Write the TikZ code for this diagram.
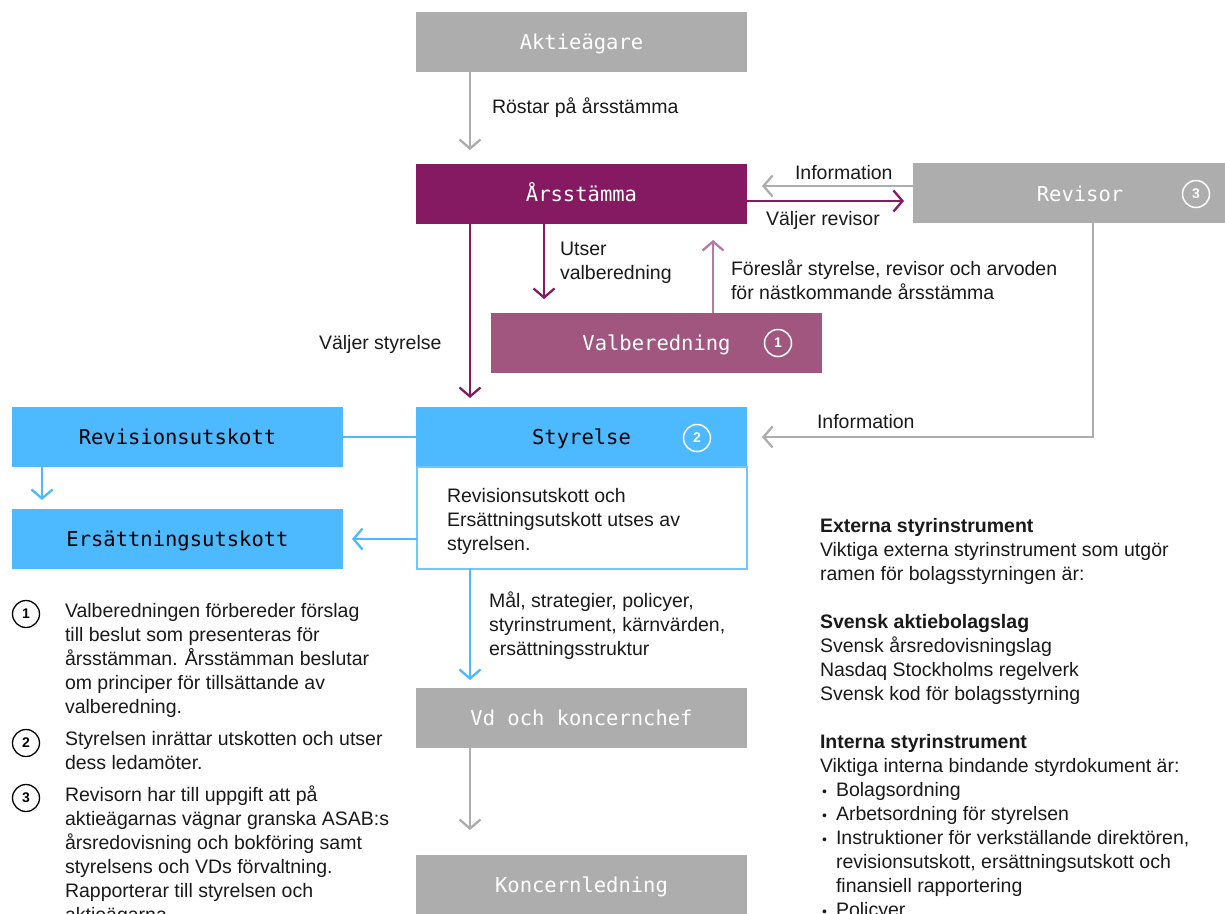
\documentclass[tikz,border=0pt]{standalone}
\usepackage{fontspec}
\setmainfont{Liberation Sans}
\newfontfamily\monof{DejaVu Sans Mono}
\usetikzlibrary{arrows.meta,calc}
\definecolor{cgray}{HTML}{ADADAD}
\definecolor{cpurple}{HTML}{861A62}
\definecolor{cvalb}{HTML}{A0567F}
\definecolor{cvalbline}{HTML}{B47BA6}
\definecolor{cblue}{HTML}{4DB9FF}
\definecolor{cbluebd}{HTML}{70C7FF}
\definecolor{ctext}{HTML}{1A1A1A}
\newcommand{\bul}{\makebox[16pt][l]{\hspace{2pt}{\fontsize{14}{14}\selectfont •}}}
\begin{document}
\begin{tikzpicture}[x=1pt,y=-1pt,
  box/.style={minimum width=331pt, minimum height=60pt, inner sep=0pt, outer sep=0pt, text height=15pt, text depth=0pt, font=\monof\fontsize{20.5}{24}\selectfont},
  graybox/.style={box, fill=cgray, text=white},
  purplebox/.style={box, fill=cpurple, text=white},
  valbbox/.style={box, fill=cvalb, text=white},
  bluebox/.style={box, fill=cblue, text=black},
  conn/.style={line width=2.3pt},
  tipped/.style={conn, -{Straight Barb[length=9pt,width=21pt]}},
  garrow/.style={tipped, draw=cgray},
  parrow/.style={tipped, draw=cpurple},
  varrow/.style={tipped, draw=cvalbline},
  barrow/.style={tipped, draw=cblue},
  lbl/.style={font=\fontsize{19.5}{24}\selectfont, text=ctext, inner sep=0pt, outer sep=0pt, align=left, anchor=base west},
  wnum/.style={circle, draw=white, line width=1.5pt, minimum size=27pt, inner sep=0pt, text=white, font=\bfseries\fontsize{14}{14}\selectfont},
  knum/.style={circle, draw=black, line width=1.3pt, minimum size=27pt, inner sep=0pt, text=black, font=\bfseries\fontsize{14}{14}\selectfont}
]
\useasboundingbox (0,0) rectangle (1225,913);
\clip (0,0) rectangle (1225,913);
\fill[white] (0,0) rectangle (1225,913);

% boxes
\node[graybox] (akt) at (581.5,42) {Aktieägare};
\node[purplebox] (ars) at (581.5,194) {Årsstämma};
\node[graybox, minimum width=312pt] (rev) at (1069,193) {};
\node[font=\monof\fontsize{20.5}{24}\selectfont, text=white, inner sep=0pt, text height=15pt, text depth=0pt] (revlbl) at (1080,194) {Revisor};
\node[wnum] (n3) at (1196,194) {3};
\node[valbbox] (valb) at (656.5,343) {Valberedning};
\node[wnum] (n1) at (778,343) {1};
\node[bluebox] (sty) at (581.5,437) {Styrelse};
\node[wnum] (n2) at (697,438) {2};
\node[draw=cbluebd, line width=1.3pt, minimum width=330pt, minimum height=102pt, inner sep=0pt, outer sep=0pt] (stytxt) at (582,518) {};
\node[lbl] (stytxtlbl) at (447,550) {Revisionsutskott och\\Ersättningsutskott utses av\\styrelsen.};
\node[bluebox] (revu) at (177.5,437) {Revisionsutskott};
\node[bluebox] (ersu) at (177.5,539) {Ersättningsutskott};
\node[graybox] (vd) at (581.5,718) {Vd och koncernchef};
\node[graybox] (kon) at (581.5,885) {Koncernledning};

% connectors
\draw[garrow] ($(akt.south west)+(54,0)$) -- ($(ars.north west)+(54,-14)$);
\draw[garrow] ($(rev.west)+(0,-7)$) -- ($(ars.east)+(15,-8)$);
\draw[parrow] ($(ars.east)+(0,7)$) -- ($(rev.west)+(-9,8)$);
\draw[parrow] ($(ars.south west)+(54,0)$) -- ($(sty.north west)+(54,-9)$);
\draw[parrow] ($(ars.south west)+(128,0)$) -- ($(valb.north west)+(53,-14)$);
\draw[varrow] ($(valb.north west)+(222,0)$) -- ($(ars.south west)+(297,16)$);
\draw[garrow] ($(rev.south west)+(180,0)$) |- ($(sty.east)+(15,0)$);
\draw[conn, draw=cblue, line width=2pt] (revu.east) -- (sty.west);
\draw[barrow] ($(revu.south west)+(30,0)$) -- ($(ersu.north west)+(30,-9)$);
\draw[barrow] (ersu.east -| stytxt.west) -- ($(ersu.east)+(9,0)$);
\draw[barrow] ($(stytxt.south west)+(53,0)$) -- ($(vd.north west)+(54,-8)$);
\draw[garrow] ($(vd.south west)+(54,0)$) -- ($(kon.north west)+(54,-25)$);

% labels
\node[lbl] (l1) at (492,113) {Röstar på årsstämma};
\node[lbl] (l2) at (795,179) {Information};
\node[lbl] (l3) at (766,225) {Väljer revisor};
\node[lbl] (l4) at (560,279) {Utser\\valberedning};
\node[lbl] (l5) at (731,299) {Föreslår styrelse, revisor och arvoden\\för nästkommande årsstämma};
\node[lbl] (l6) at (319,349) {Väljer styrelse};
\node[lbl] (l7) at (817,428) {Information};
\node[lbl] (l8) at (489,655) {Mål, strategier, policyer,\\styrinstrument, kärnvärden,\\ersättningsstruktur};

% footnotes
\node[knum] (f1) at (26,614) {1};
\node[lbl] (f1t) at (65,713) {Valberedningen förbereder förslag\\till beslut som presenteras för\\årsstämman. Årsstämman beslutar\\om principer för tillsättande av\\valberedning.};
\node[knum] (f2) at (26,743) {2};
\node[lbl] (f2t) at (65,769) {Styrelsen inrättar utskotten och utser\\dess ledamöter.};
\node[knum] (f3) at (26,798) {3};
\node[lbl] (f3t) at (65,921) {Revisorn har till uppgift att på\\aktieägarnas vägnar granska ASAB:s\\årsredovisning och bokföring samt\\styrelsens och VDs förvaltning.\\Rapporterar till styrelsen och\\aktieägarna.};

% right column
\node[lbl] (rc) at (820,916) {\textbf{Externa styrinstrument}\\
Viktiga externa styrinstrument som utgör\\
ramen för bolagsstyrningen är:\\[24pt]
\textbf{Svensk aktiebolagslag}\\
Svensk årsredovisningslag\\
Nasdaq Stockholms regelverk\\
Svensk kod för bolagsstyrning\\[24pt]
\textbf{Interna styrinstrument}\\
Viktiga interna bindande styrdokument är:\\
\bul Bolagsordning\\
\bul Arbetsordning för styrelsen\\
\bul Instruktioner för verkställande direktören,\\
\hspace{16pt}revisionsutskott, ersättningsutskott och\\
\hspace{16pt}finansiell rapportering\\
\bul Policyer};
\end{tikzpicture}
\end{document}
